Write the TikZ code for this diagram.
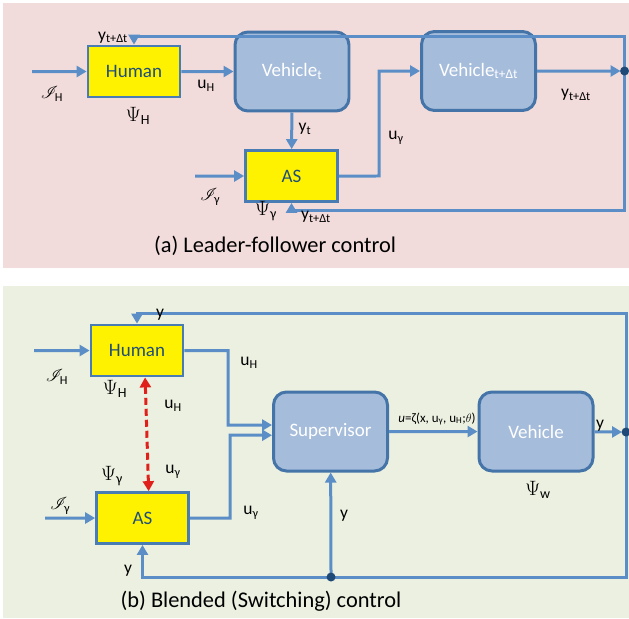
\documentclass[tikz,border=0pt]{standalone}
\usepackage{fontspec}
\setmainfont{Carlito}
\usepackage{amsmath}
\usepackage{amssymb}
\usepackage{mathrsfs}
\usetikzlibrary{arrows.meta}

\definecolor{pinkbg}{HTML}{F2DCDB}
\definecolor{greenbg}{HTML}{EBF0E0}
\definecolor{linecol}{HTML}{5B8EC6}
\definecolor{vehfill}{HTML}{A5BCDB}
\definecolor{vehline}{HTML}{4474A8}
\definecolor{yelline}{HTML}{4A7CB4}
\definecolor{boxtext}{HTML}{1F4E79}
\definecolor{dotcol}{HTML}{1F4A78}
\definecolor{dashred}{HTML}{E0201B}

\begin{document}
\begin{tikzpicture}[scale=0.3515,
    wire/.style={draw=linecol, line width=3pt, -{Triangle[length=10pt,width=11pt]}},
    plain/.style={draw=linecol, line width=3pt},
    yelbox/.style={draw=yelline, line width=2.8pt, fill=yellow, minimum width=92pt, minimum height=51pt,
        text=boxtext, font=\fontsize{19}{22}\selectfont},
    vehbox/.style={draw=vehline, line width=3pt, fill=vehfill, rounded corners=13pt,
        minimum width=114pt, minimum height=79pt, text=white, font=\fontsize{19}{22}\selectfont},
    lbl/.style={font=\fontsize{17.5}{20}\selectfont},
    psi/.style={font=\fontsize{20}{22}\selectfont},
    capline/.style={font=\fontsize{22.4}{26}\selectfont}]
    \tikzstyle{every node}+=[inner sep=0pt]
    \useasboundingbox (0,0) rectangle (62.9,-61.8);
    \fill [pinkbg] (0.3,-0.3) rectangle (62.9,-26.8);
    \fill [greenbg] (0.3,-28.6) rectangle (62.9,-61.8);

    % (a) leader-follower
    \node [yelbox] (human) at (13.4,-7.15) {Human};
    \node [vehbox] (vehT) at (29.2,-7.15) {Vehicle\textsubscript{t}};
    \node [vehbox] (vehTdt) at (47.85,-7.1) {Vehicle\textsubscript{t+Δt}};
    \node [yelbox] (as) at (29.15,-17.6) {AS};
    \coordinate (inH) at (3.2,-7.15);
    \coordinate (inG) at (19.5,-17.6);
    \coordinate (jA) at (62.45,-7.1);

    \draw [wire] (inH) -- (human);
    \draw [wire] (human) -- (vehT);
    \draw [wire] (vehT) -- (as);
    \draw [wire] (inG) -- (as);
    \draw [wire] (as.east) -- (37.9,-17.6) |- (vehTdt.west);
    \draw [wire, shorten >=4pt] (vehTdt) -- (jA);
    \draw [wire] (jA) |- ([yshift=22pt]human.north) -- (human.north);
    \draw [wire] (jA) |- ([yshift=-22pt]as.south) -- (as.south);
    \fill [dotcol] (jA) circle (0.45);

    \node [lbl] (lyH) at (11.3,-3.75) {y\textsubscript{t+Δt}};
    \node [lbl] (lIH) at (5.2,-9.4) {$\mathscr{I}_{\text{H}}$};
    \node [psi] (lPH) at (13.8,-11.6) {$\Psi_{\text{H}}$};
    \node [lbl] (luH) at (20.6,-8.6) {u\textsubscript{H}};
    \node [lbl] (lyt) at (30.5,-12.9) {y\textsubscript{t}};
    \node [lbl] (luG) at (39.6,-13.8) {u\textsubscript{γ}};
    \node [lbl] (lyR) at (57.6,-9.5) {y\textsubscript{t+Δt}};
    \node [lbl] (lIG) at (21.0,-19.7) {$\mathscr{I}_{\text{γ}}$};
    \node [psi] (lPG) at (26.6,-21.1) {$\Psi_{\text{γ}}$};
    \node [lbl] (lyB) at (31.6,-21.7) {y\textsubscript{t+Δt}};
    \node [capline] (capA) at (27.5,-24.6) {(a) Leader-follower control};

    % (b) blended / switching
    \node [yelbox] (humanB) at (13.7,-35.05) {Human};
    \node [yelbox] (asB) at (14.25,-51.8) {AS};
    \node [vehbox] (sup) at (33.05,-43.15) {Supervisor};
    \node [vehbox] (veh) at (53.6,-43.15) {Vehicle};
    \coordinate (inHB) at (3.4,-35.05);
    \coordinate (inGB) at (4.5,-51.8);
    \coordinate (jR) at (62.6,-43.2);
    \coordinate (jL) at (33.1,-57.7);

    \draw [wire] (inHB) -- (humanB);
    \draw [wire] (inGB) -- (asB);
    \draw [wire] (humanB.east) -- (22.8,-35.05) |- ([yshift=18.5pt]sup.west);
    \draw [wire] (asB.east) -- (23.0,-51.8) |- ([yshift=-10.5pt]sup.west);
    \draw [wire] (sup) -- (veh);
    \draw [wire, shorten >=4pt] (veh) -- (jR);
    \draw [wire] (jR) |- ([yshift=28pt]humanB.north) -- (humanB.north);
    \draw [plain] (jR) |- (jL);
    \draw [wire] (jL) -| (asB.south);
    \draw [wire] (jL) -- (sup);
    \draw [dashred, line width=3pt, dash pattern=on 7pt off 4pt,
        {Triangle[length=10pt,width=11pt]}-{Triangle[length=10pt,width=11pt]}]
        ([xshift=23pt]humanB.south) -- ([xshift=17.5pt]asB.north);
    \fill [dotcol] (jR) circle (0.45);
    \fill [dotcol] (jL) circle (0.45);

    \node [lbl] (lyHB) at (16.0,-31.5) {y};
    \node [lbl] (lIHB) at (5.7,-37.7) {$\mathscr{I}_{\text{H}}$};
    \node [psi] (lPHB) at (11.5,-38.9) {$\Psi_{\text{H}}$};
    \node [lbl] (luHB) at (24.9,-36.3) {u\textsubscript{H}};
    \node [lbl] (luHd) at (17.3,-40.6) {u\textsubscript{H}};
    \node [lbl] (luGd) at (17.3,-47.2) {u\textsubscript{γ}};
    \node [psi] (lPGB) at (11.2,-47.6) {$\Psi_{\text{γ}}$};
    \node [lbl] (lIGB) at (6.0,-50.6) {$\mathscr{I}_{\text{γ}}$};
    \node [lbl] (luGB) at (25.1,-51.3) {u\textsubscript{γ}};
    \node [font=\fontsize{13}{15}\selectfont] (lform) at (43.7,-41.9) {\textit{u}=ζ(x, u\textsubscript{γ}, u\textsubscript{H};$\theta$)};
    \node [lbl] (lyV) at (60.0,-42.6) {y};
    \node [psi] (lPW) at (53.8,-49.0) {$\Psi_{\text{w}}$};
    \node [lbl] (lyS) at (34.4,-51.6) {y};
    \node [lbl] (lyA) at (12.8,-57.1) {y};
    \node [capline] (capB) at (26.1,-60.1) {(b) Blended (Switching) control};
\end{tikzpicture}
\end{document}
